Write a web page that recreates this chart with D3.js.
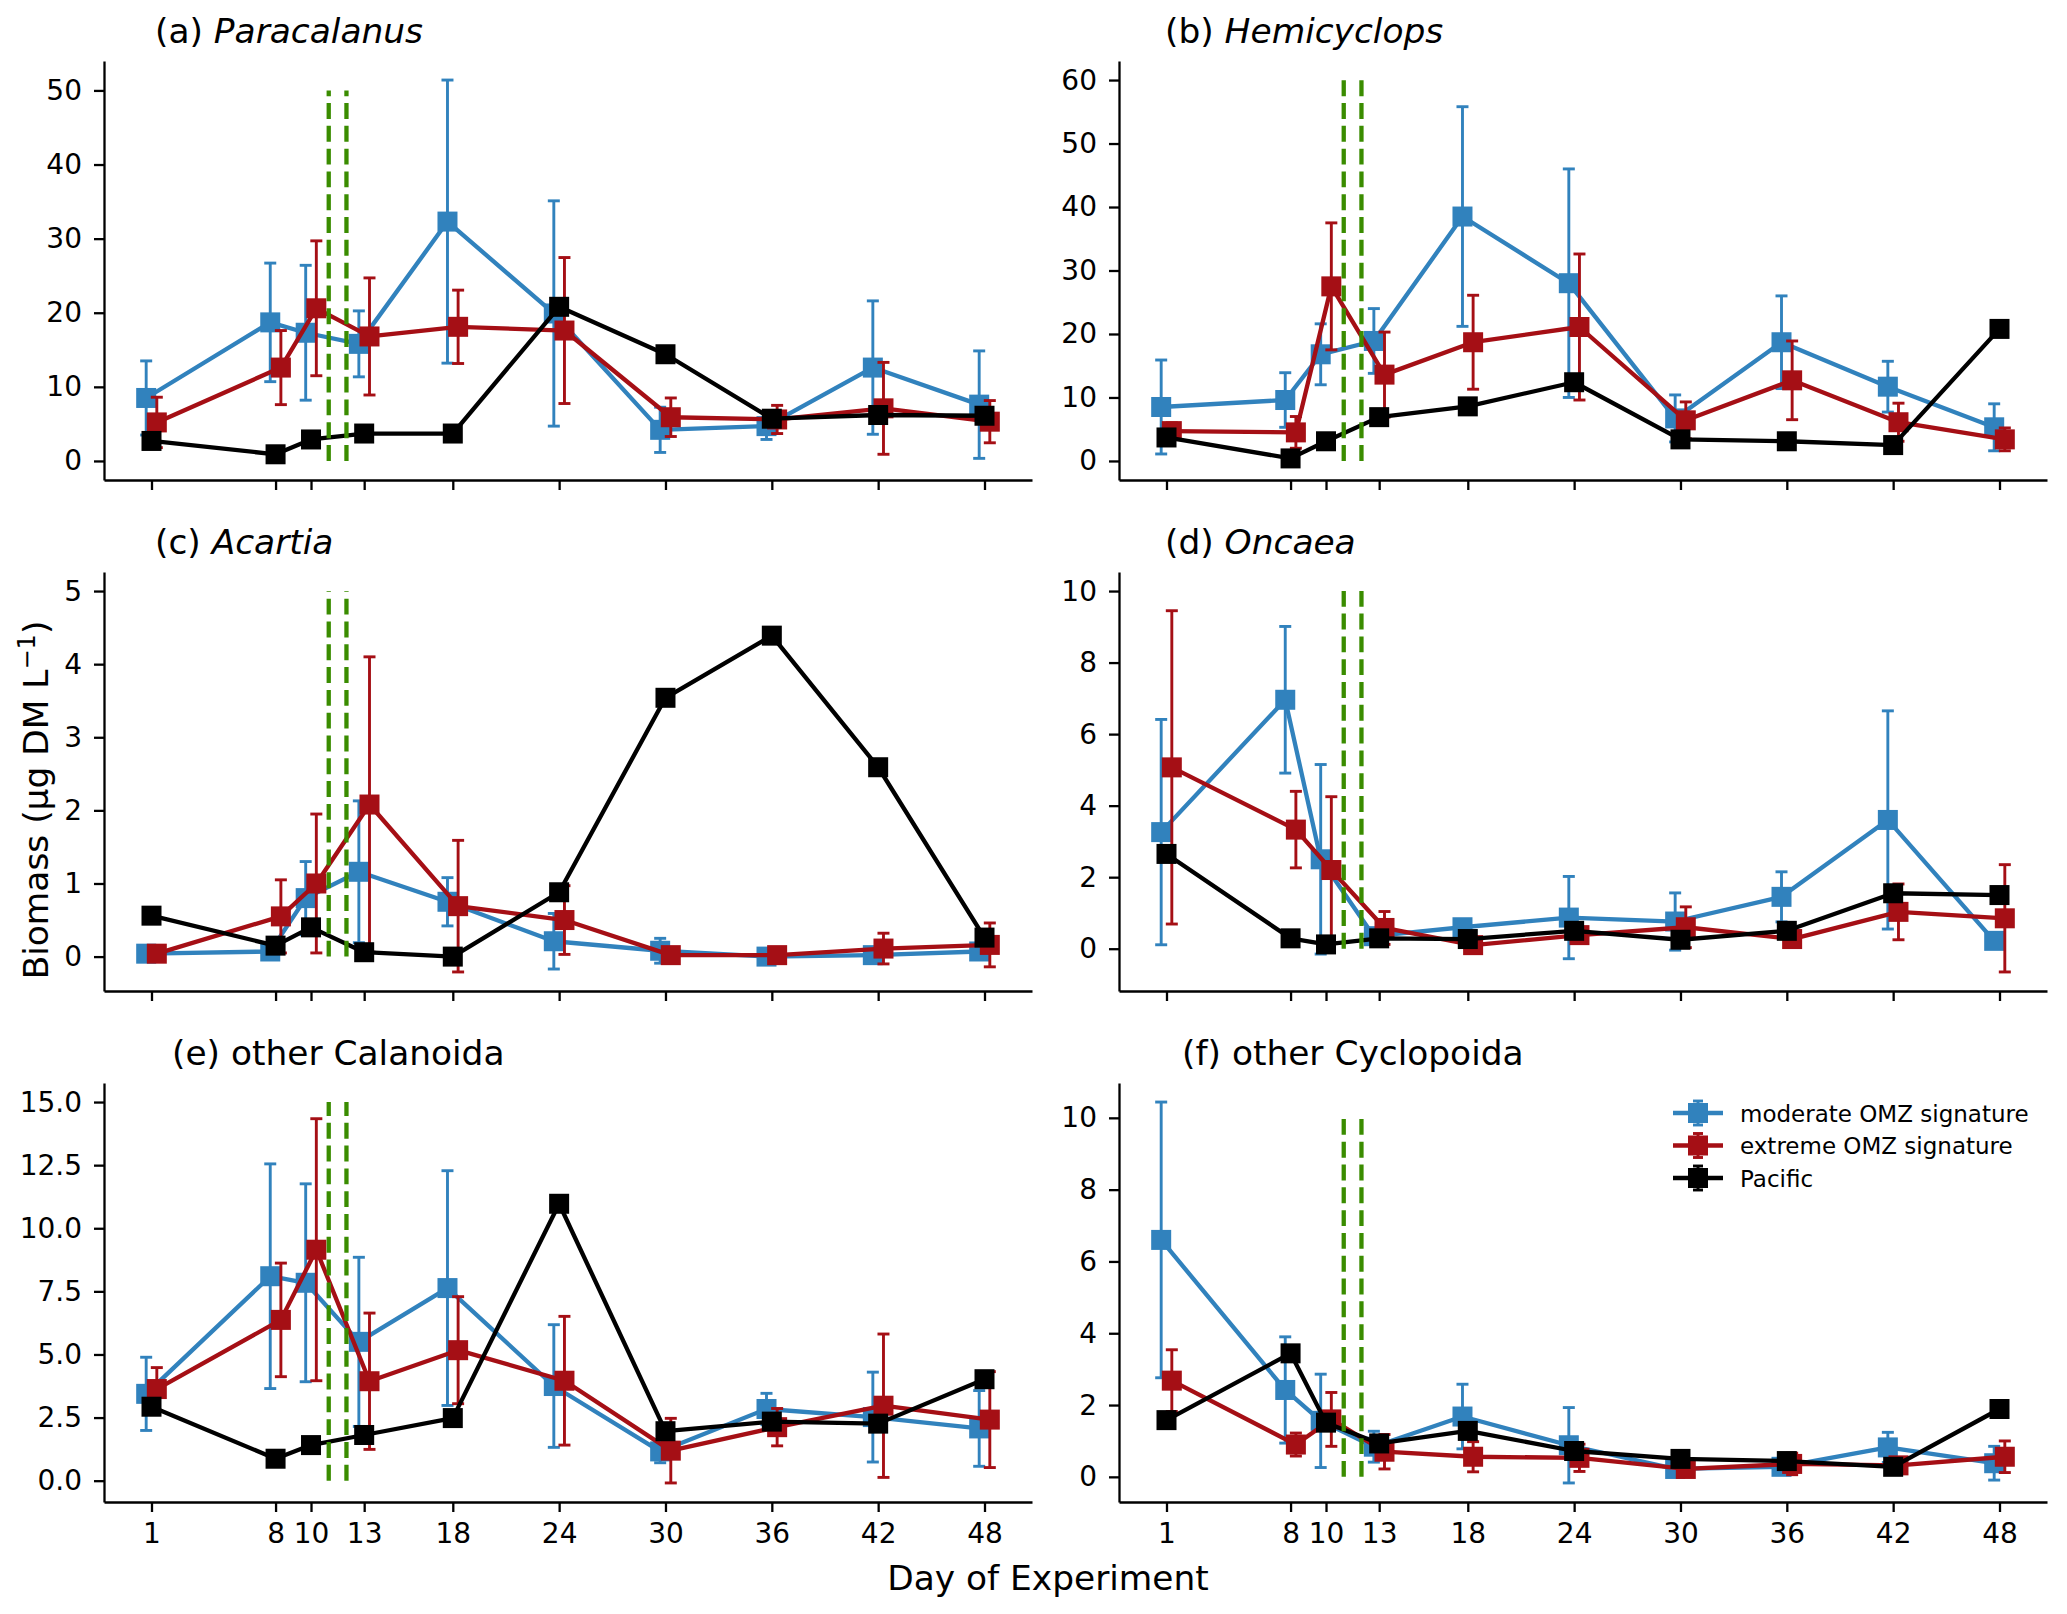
<!DOCTYPE html>
<html>
<head>
<meta charset="utf-8">
<script src="https://cdn.jsdelivr.net/npm/d3@7"></script>
<style>
  body { margin: 0; background: #fff; }
  text { font-family: "DejaVu Sans", sans-serif; fill: #000; }
</style>
</head>
<body>
<div id="chart"></div>
<script>
// Sampling days (x axis) and the two treatment days marked with dashed lines
var days = [1, 8, 10, 13, 18, 24, 30, 36, 42, 48];
var treatmentDays = [11, 12];
var seriesNames = ["moderate OMZ signature", "extreme OMZ signature", "Pacific"];

// Panel titles
var titlePrefix = ["(a)", "(b)", "(c)", "(d)", "(e)", "(f)"];
var titleNames = ["Paracalanus", "Hemicyclops", "Acartia", "Oncaea", "other Calanoida", "other Cyclopoida"];
var titleItalic = [true, true, true, true, false, false];

// y tick values per panel, and the top of the dashed treatment lines
var ticksA = [0, 10, 20, 30, 40, 50];
var ticksB = [0, 10, 20, 30, 40, 50, 60];
var ticksC = [0, 1, 2, 3, 4, 5];
var ticksD = [0, 2, 4, 6, 8, 10];
var ticksE = [0, 2.5, 5, 7.5, 10, 12.5, 15];
var ticksF = [0, 2, 4, 6, 8, 10];
var dashTop = [50, 60, 5, 10, 15, 10];

// (a) Paracalanus
var paraModerate   = [8.5, 18.7, 17.3, 15.8, 32.3, 19.9, 4.2, 4.7, 12.6, 7.6];
var paraModerateSD = [5.0, 8.0, 9.1, 4.45, 19.1, 15.2, 3.05, 1.8, 9.0, 7.25];
var paraExtreme    = [5.2, 12.6, 20.6, 16.8, 18.1, 17.6, 5.9, 5.6, 7.1, 5.3];
var paraExtremeSD  = [3.4, 5.0, 9.1, 7.9, 4.95, 9.85, 2.6, 1.9, 6.2, 2.85];
var paraPacific    = [2.7, 0.9, 2.9, 3.7, 3.7, 20.8, 14.4, 5.7, 6.2, 6.1];

// (b) Hemicyclops
var hemiModerate   = [8.5, 9.6, 16.8, 18.9, 38.5, 28.0, 6.7, 18.7, 11.7, 5.3];
var hemiModerateSD = [7.4, 4.3, 4.8, 5.1, 17.3, 18.0, 3.7, 7.3, 4.0, 3.7];
var hemiExtreme    = [4.7, 4.5, 27.5, 13.6, 18.7, 21.1, 6.4, 12.7, 6.1, 3.4];
var hemiExtremeSD  = [1.3, 2.5, 10.0, 6.7, 7.4, 11.5, 2.9, 6.2, 3.0, 1.8];
var hemiPacific    = [3.7, 0.4, 3.1, 6.9, 8.6, 12.4, 3.4, 3.1, 2.5, 20.8];

// (c) Acartia
var acarModerate   = [0.04, 0.07, 0.8, 1.16, 0.75, 0.21, 0.08, 0.0, 0.02, 0.07];
var acarModerateSD = [0.03, 0.1, 0.5, 0.97, 0.33, 0.38, 0.17, 0.03, 0.04, 0.06];
var acarExtreme    = [0.04, 0.55, 1.0, 2.08, 0.69, 0.5, 0.02, 0.02, 0.11, 0.16];
var acarExtremeSD  = [0.03, 0.5, 0.95, 2.02, 0.9, 0.47, 0.05, 0.03, 0.21, 0.3];
var acarPacific    = [0.56, 0.15, 0.4, 0.06, 0.0, 0.88, 3.54, 4.39, 2.59, 0.26];

// (d) Oncaea
var oncaModerate   = [3.26, 6.96, 2.5, 0.35, 0.6, 0.87, 0.76, 1.45, 3.6, 0.22];
var oncaModerateSD = [3.15, 2.05, 2.65, 0.1, 0.2, 1.15, 0.8, 0.7, 3.05, 0.1];
var oncaExtreme    = [5.07, 3.33, 2.2, 0.58, 0.1, 0.38, 0.6, 0.27, 1.03, 0.85];
var oncaExtremeSD  = [4.38, 1.07, 2.05, 0.46, 0.1, 0.15, 0.57, 0.1, 0.78, 1.5];
var oncaPacific    = [2.65, 0.29, 0.12, 0.29, 0.27, 0.5, 0.25, 0.5, 1.55, 1.5];

// (e) other Calanoida
var calaModerate   = [3.44, 8.1, 7.84, 5.5, 7.63, 3.75, 1.16, 2.84, 2.52, 2.07];
var calaModerateSD = [1.45, 4.45, 3.92, 3.35, 4.65, 2.43, 0.45, 0.62, 1.78, 1.5];
var calaExtreme    = [3.63, 6.37, 9.15, 3.94, 5.17, 3.96, 1.19, 2.12, 2.97, 2.42];
var calaExtremeSD  = [0.85, 2.25, 5.19, 2.7, 2.12, 2.55, 1.28, 0.74, 2.84, 1.9];
var calaPacific    = [2.93, 0.87, 1.41, 1.81, 2.48, 10.97, 1.96, 2.34, 2.26, 4.02];

// (f) other Cyclopoida
var cyclModerate   = [6.6, 2.42, 1.56, 0.84, 1.68, 0.88, 0.22, 0.28, 0.82, 0.38];
var cyclModerateSD = [3.84, 1.48, 1.3, 0.43, 0.9, 1.05, 0.15, 0.15, 0.42, 0.47];
var cyclExtreme    = [2.68, 0.9, 1.6, 0.7, 0.56, 0.53, 0.22, 0.36, 0.32, 0.56];
var cyclExtremeSD  = [0.86, 0.32, 0.75, 0.48, 0.42, 0.38, 0.12, 0.3, 0.13, 0.44];
var cyclPacific    = [1.58, 3.44, 1.51, 0.93, 1.28, 0.72, 0.5, 0.44, 0.28, 1.89];

// Panel table built from the arrays above
var panelMeans = [
  [paraModerate, paraExtreme, paraPacific],
  [hemiModerate, hemiExtreme, hemiPacific],
  [acarModerate, acarExtreme, acarPacific],
  [oncaModerate, oncaExtreme, oncaPacific],
  [calaModerate, calaExtreme, calaPacific],
  [cyclModerate, cyclExtreme, cyclPacific]
];
var panelErrors = [
  [paraModerateSD, paraExtremeSD, null],
  [hemiModerateSD, hemiExtremeSD, null],
  [acarModerateSD, acarExtremeSD, null],
  [oncaModerateSD, oncaExtremeSD, null],
  [calaModerateSD, calaExtremeSD, null],
  [cyclModerateSD, cyclExtremeSD, null]
];
var panelTicks = [ticksA, ticksB, ticksC, ticksD, ticksE, ticksF];

// Styling
var colors = ["#3182bd", "#a50f15", "#000000"];
var dodge = [-0.3, 0.3, 0];
var dashColor = "#3a8c00";
var svgWidth = 2067, svgHeight = 1614;
var colLeft = [104, 1119], panelWidth = 928;
var rowTop = [61, 572, 1083], panelHeight = 419;
var titleOffset = [51, 46, 51, 46, 68, 63];
var tickFont = "28px", labelFont = "34.4px", legendFont = "23px";

var svg = d3.select("#chart")
  .append("svg")
  .attr("width", svgWidth)
  .attr("height", svgHeight);

// matplotlib style auto limits: 5% padding on the data extent
function padded(lo, hi) {
  var m = (hi - lo) * 0.05;
  return [lo - m, hi + m];
}

var xDomain = padded(d3.min(days) + d3.min(dodge), d3.max(days) + d3.max(dodge));

panelMeans.forEach(function(means, p) {
  var col = p % 2, row = Math.floor(p / 2);
  var errs = panelErrors[p];

  var g = svg.append("g")
    .attr("transform", `translate(${colLeft[col]}, ${rowTop[row]})`);

  // y extent over means +/- error and the dashed lines
  var lo = 0, hi = dashTop[p];
  means.forEach(function(m, s) {
    m.forEach(function(v, i) {
      var e = errs[s] ? errs[s][i] : 0;
      lo = Math.min(lo, v - e);
      hi = Math.max(hi, v + e);
    });
  });

  var xScale = d3.scaleLinear().domain(xDomain).range([0, panelWidth]);
  var yScale = d3.scaleLinear().domain(padded(lo, hi)).range([panelHeight, 0]);

  // series: error bars, line, square markers
  means.forEach(function(m, s) {
    var pts = m.map(function(v, i) {
      return { x: days[i] + dodge[s], y: v, e: errs[s] ? errs[s][i] : 0 };
    });
    var sg = g.append("g");

    var withErr = pts.filter(function(d) { return d.e > 0; });
    sg.selectAll(".ebar").data(withErr).enter().append("line")
      .attr("x1", d => xScale(d.x)).attr("x2", d => xScale(d.x))
      .attr("y1", d => yScale(d.y - d.e)).attr("y2", d => yScale(d.y + d.e))
      .attr("stroke", colors[s]).attr("stroke-width", 2.9);
    [-1, 1].forEach(function(sign) {
      sg.selectAll(".cap" + sign).data(withErr).enter().append("line")
        .attr("x1", d => xScale(d.x) - 6).attr("x2", d => xScale(d.x) + 6)
        .attr("y1", d => yScale(d.y + sign * d.e)).attr("y2", d => yScale(d.y + sign * d.e))
        .attr("stroke", colors[s]).attr("stroke-width", 2.9);
    });

    var drawLine = d3.line()
      .x(d => xScale(d.x))
      .y(d => yScale(d.y));
    sg.append("path")
      .attr("d", drawLine(pts))
      .attr("fill", "none")
      .attr("stroke", colors[s])
      .attr("stroke-width", 4.3)
      .attr("stroke-linejoin", "round");

    sg.selectAll("rect").data(pts).enter().append("rect")
      .attr("x", d => xScale(d.x) - 10)
      .attr("y", d => yScale(d.y) - 10)
      .attr("width", 20).attr("height", 20)
      .attr("fill", colors[s]);
  });

  // dashed treatment lines, drawn from 0 upward
  g.selectAll(".treat").data(treatmentDays).enter().append("line")
    .attr("x1", d => xScale(d)).attr("x2", d => xScale(d))
    .attr("y1", yScale(0)).attr("y2", yScale(dashTop[p]))
    .attr("stroke", dashColor)
    .attr("stroke-width", 4.3)
    .attr("stroke-dasharray", "15.9,6.9");

  // axes
  var leftAxis = d3.axisLeft(yScale)
    .tickValues(panelTicks[p])
    .tickSize(10).tickSizeOuter(0).tickPadding(12)
    .tickFormat(p === 4 ? d3.format(".1f") : d3.format("d"));
  var bottomAxis = d3.axisBottom(xScale)
    .tickValues(days)
    .tickSize(10).tickSizeOuter(0).tickPadding(11)
    .tickFormat(row === 2 ? d3.format("d") : "");

  var ya = g.append("g").call(leftAxis);
  var xa = g.append("g").attr("transform", `translate(0, ${panelHeight})`).call(bottomAxis);
  [ya, xa].forEach(function(a) {
    a.attr("font-family", null).attr("font-size", null);
    a.selectAll("path, line").attr("stroke", "#000").attr("stroke-width", 2.3);
    a.selectAll("text").style("font-size", tickFont);
  });

  // title
  var title = g.append("text")
    .attr("x", titleOffset[p])
    .attr("y", -18.5)
    .style("font-size", labelFont);
  title.append("tspan").text(titlePrefix[p] + " ");
  title.append("tspan")
    .style("font-style", titleItalic[p] ? "italic" : "normal")
    .text(titleNames[p]);

  // legend in the last panel
  if (p === 5) {
    var lg = g.append("g").attr("transform", "translate(554, 30)");
    seriesNames.forEach(function(name, s) {
      var item = lg.append("g").attr("transform", `translate(0, ${s * 32.5})`);
      item.append("line").attr("x1", 0).attr("x2", 50).attr("y1", 0).attr("y2", 0)
        .attr("stroke", colors[s]).attr("stroke-width", 4.3);
      item.append("line").attr("x1", 25).attr("x2", 25).attr("y1", -12).attr("y2", 12)
        .attr("stroke", colors[s]).attr("stroke-width", 2.9);
      [-12, 12].forEach(function(cy) {
        item.append("line").attr("x1", 20).attr("x2", 30).attr("y1", cy).attr("y2", cy)
          .attr("stroke", colors[s]).attr("stroke-width", 2.9);
      });
      item.append("rect").attr("x", 15).attr("y", -10).attr("width", 20).attr("height", 20)
        .attr("fill", colors[s]);
      item.append("text").attr("x", 67).attr("y", 8.5)
        .style("font-size", legendFont)
        .text(name);
    });
  }
});

// shared axis labels
var yLabel = svg.append("text")
  .attr("transform", "translate(48, 800) rotate(-90)")
  .attr("text-anchor", "middle")
  .style("font-size", labelFont);
yLabel.append("tspan").text("Biomass (µg DM L");
yLabel.append("tspan").attr("dy", -13).style("font-size", "24px").text("\u22121");
yLabel.append("tspan").attr("dy", 13).text(")");

svg.append("text")
  .attr("x", 1048)
  .attr("y", 1590)
  .attr("text-anchor", "middle")
  .style("font-size", labelFont)
  .text("Day of Experiment");
</script>
</body>
</html>
